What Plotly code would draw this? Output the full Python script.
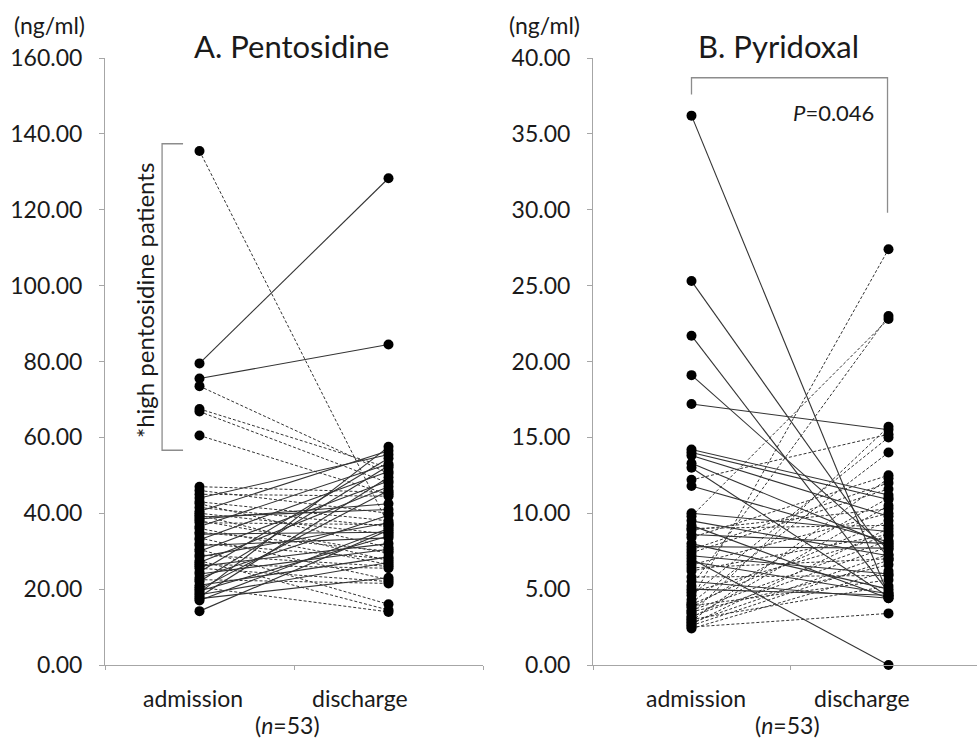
import plotly.graph_objects as go

# ---------------- data ----------------
categories = ["admission", "discharge"]

pento_admission = [135.5, 79.5, 75.5, 73.5, 67.5, 66.8, 60.5,
                   47.0, 46.0, 45.0, 44.0, 43.0, 41.5, 40.5, 40.0, 39.5, 39.0,
                   38.0, 37.5, 36.5, 36.0, 35.0, 34.5, 33.5, 33.0, 32.0, 31.5,
                   30.5, 30.0, 29.0, 28.5, 27.5, 27.0, 26.0, 25.5, 24.5, 24.0,
                   23.0, 22.5, 22.0, 21.0, 20.5, 20.0, 19.5, 19.0, 18.5, 18.0,
                   17.5, 17.0, 14.2, 42.5, 38.5, 26.5]
pento_discharge = [37.0, 128.3, 84.5, 50.5, 52.0, 48.0, 45.0,
                   45.5, 40.0, 44.5, 55.5, 38.0, 36.5, 56.5, 34.5, 27.5, 41.0,
                   29.5, 37.0, 53.0, 26.5, 30.0, 35.0, 22.5, 51.0, 28.0, 33.5,
                   16.0, 48.5, 26.0, 37.5, 14.5, 47.0, 32.0, 22.0, 54.5, 30.5,
                   39.5, 21.5, 52.5, 28.5, 14.0, 46.0, 34.0, 57.5, 27.0, 49.5,
                   23.0, 36.0, 35.5, 31.0, 42.5, 25.5]

pyri_admission = [36.2, 25.3, 21.7, 19.1, 17.2, 14.2, 14.0, 13.8, 13.3, 13.0,
                  12.2, 11.8, 10.0, 9.8, 9.5, 9.2, 9.0, 8.6, 8.4, 8.0,
                  7.8, 7.6, 7.4, 7.2, 7.0, 6.8, 6.6, 6.4, 6.2, 5.8,
                  5.5, 5.2, 5.0, 4.8, 4.6, 4.3, 4.1, 4.0, 3.9, 3.8,
                  3.6, 3.5, 3.4, 3.2, 3.1, 3.0, 2.9, 2.8, 2.7, 2.6,
                  2.5, 2.4, 8.9]
pyri_discharge = [4.6, 7.0, 4.8, 7.6, 15.5, 11.2, 10.9, 9.8, 7.9, 4.5,
                  15.2, 8.1, 8.8, 22.8, 7.2, 4.4, 9.2, 8.0, 12.5, 5.0,
                  7.7, 12.0, 11.6, 6.0, 0.0, 4.7, 10.0, 7.0, 8.6, 5.9,
                  4.4, 23.0, 4.6, 8.5, 15.0, 27.4, 14.0, 9.5, 5.6, 11.0,
                  8.2, 6.6, 15.7, 7.8, 10.5, 5.2, 12.3, 7.3, 9.0, 6.9,
                  3.4, 6.2, 10.3]

pento_ticks = [0, 20, 40, 60, 80, 100, 120, 140, 160]
pyri_ticks = [0, 5, 10, 15, 20, 25, 30, 35, 40]

FONT = "Lato"
TXT = "#1a1a1a"
AX = "#a6a6a6"
W, H = 977, 740

fig = go.Figure()


def add_panel(adm, dis, xa, ya, solid_when_up):
    sx, sy, dx, dy = [], [], [], []
    for a, d in zip(adm, dis):
        up = d > a
        if up == solid_when_up:
            sx += [0, 1, None]; sy += [a, d, None]
        else:
            dx += [0, 1, None]; dy += [a, d, None]
    fig.add_trace(go.Scatter(x=dx, y=dy, mode="lines", xaxis=xa, yaxis=ya,
                             line=dict(color="#333333", width=1, dash="3px,2px"),
                             showlegend=False, hoverinfo="skip"))
    fig.add_trace(go.Scatter(x=sx, y=sy, mode="lines", xaxis=xa, yaxis=ya,
                             line=dict(color="#333333", width=1.1),
                             showlegend=False, hoverinfo="skip"))
    fig.add_trace(go.Scatter(x=[0] * len(adm) + [1] * len(dis), y=list(adm) + list(dis),
                             mode="markers", xaxis=xa, yaxis=ya,
                             marker=dict(color="black", size=10),
                             showlegend=False, cliponaxis=False))


add_panel(pento_admission, pento_discharge, "x", "y", True)
add_panel(pyri_admission, pyri_discharge, "x2", "y2", False)

ydom = [(H - 665) / H, (H - 58) / H]


def yaxis(ticks, rng, anchor):
    return dict(domain=ydom, range=rng, tickvals=ticks, tickformat=".2f",
                showline=True, linecolor=AX, linewidth=1, ticks="outside",
                ticklen=5, tickcolor=AX, showgrid=False, zeroline=False,
                tickfont=dict(family=FONT, size=23, color=TXT),
                ticklabelstandoff=12, automargin=False, anchor=anchor)


def xaxis(dom, rng, tv, anchor):
    return dict(domain=dom, range=rng, tickvals=tv, ticktext=[""] * len(tv),
                showline=True, linecolor=AX, linewidth=1, ticks="outside",
                ticklen=4, tickcolor=AX, showgrid=False, zeroline=False,
                anchor=anchor, automargin=False)


fig.update_layout(
    width=W, height=H, margin=dict(l=0, r=0, t=0, b=0, autoexpand=False),
    paper_bgcolor="white", plot_bgcolor="white",
    xaxis=xaxis([105 / W, 483 / W], [-0.5, 1.5], [-0.5, 0.5, 1.5], "y"),
    yaxis=yaxis(pento_ticks, [0, 160], "x"),
    xaxis2=xaxis([593 / W, 1.0], [-0.5, -0.5 + 384 / 197], [-0.5, 0.5, 1.5], "y2"),
    yaxis2=yaxis(pyri_ticks, [0, 40], "x2"),
)


def ann(text, xp, yp, size, **kw):
    fig.add_annotation(text=text, x=xp / W, y=1 - yp / H, xref="paper", yref="paper",
                       showarrow=False, xanchor="center", yanchor="middle",
                       font=dict(family=FONT, size=size, color=TXT), **kw)


ann("(ng/ml)", 49, 25, 23)
ann("A. Pentosidine", 291, 46, 31)
ann("(ng/ml)", 544, 25, 23)
ann("B. Pyridoxal", 778, 46, 31)
ann(categories[0], 193, 698, 23)
ann(categories[1], 360, 698, 23)
ann("(<i>n</i>=53)", 287, 725, 23)
ann(categories[0], 696, 698, 23)
ann(categories[1], 862, 698, 23)
ann("(<i>n</i>=53)", 787, 725, 23)
ann("<i>P</i>=0.046", 833, 112, 22)
ann("*high pentosidine patients", 145, 301, 24, textangle=-90)

# brackets
bl = dict(color="#8c8c8c", width=1.3)
fig.add_shape(type="path", xref="x", yref="y",
              path="M -0.087,137.4 L -0.198,137.4 L -0.198,56.6 L -0.087,56.6", line=bl)
fig.add_shape(type="path", xref="x2", yref="y2",
              path="M 0,37.6 L 0,38.7 L 0.995,38.7 L 0.995,29.8", line=bl)

fig.write_html("out.html")
